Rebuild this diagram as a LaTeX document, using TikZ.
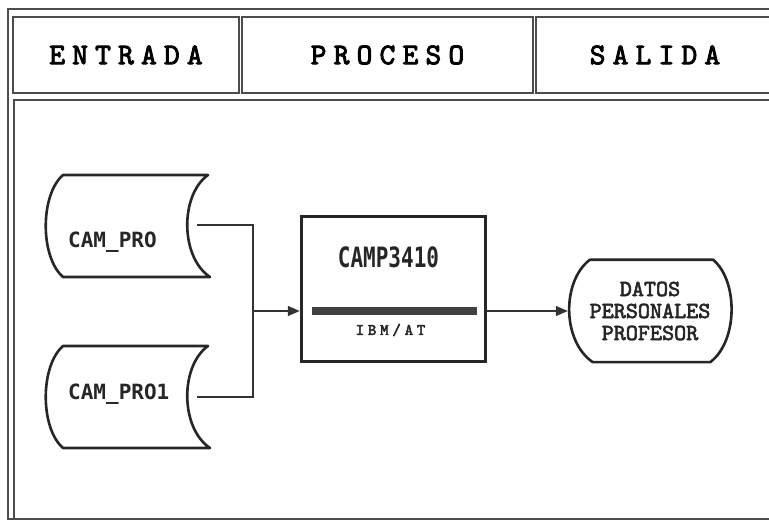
\documentclass[tikz,border=0pt]{standalone}
\usepackage{fontspec}
\usepackage{graphicx}
\usetikzlibrary{arrows.meta, calc, positioning}
\newfontfamily\headfont{lmmono10-regular.otf}[LetterSpace=24, FakeBold=3]
\newfontfamily\datfont{lmmono10-regular.otf}[FakeBold=2.6]
\newfontfamily\lblfont{DejaVu Sans Mono}

% outline of a stored-data symbol, centred at (#1,#2)
\newcommand{\storeshape}[2]{%
	\draw[shapeline] ({#1-64},{#2-51}) -- ({#1+81},{#2-51})
	.. controls ({#1+53},{#2-31}) and ({#1+53},{#2+31}) .. ({#1+83},{#2+51})
	-- ({#1-64},{#2+51})
	.. controls ({#1-87},{#2+31}) and ({#1-87},{#2-31}) .. cycle;}

\begin{document}
\begin{tikzpicture}[
		x=1pt, y=-1pt,
		>={Triangle[length=12pt, width=10pt]},
		frame/.style={draw=black!70, line width=1.2pt},
		headcell/.style={
				frame,
				inner sep=0pt,
				minimum height=76pt,
				font=\headfont\fontsize{30}{30}\selectfont
			},
		shapeline/.style={draw=black!85, line width=2.6pt, line join=round},
		conn/.style={draw=black!80, line width=1.4pt},
		lbl/.style={
				inner sep=0pt,
				text=black!85,
				font=\lblfont\bfseries\fontsize{21}{20}\selectfont
			}
	]
	\useasboundingbox (0,0) rectangle (769,521);
	\fill[white] (0,0) rectangle (769,521);

	% double frame
	\draw[frame] (775,9) -- (8,9) -- (8,519) -- (775,519);
	\draw[frame] (775,100) -- (14,100) -- (14,519);

	% header
	\node[headcell, minimum width=226pt] (entrada) at (126,55) {ENTRADA};
	\node[headcell, minimum width=291pt] (proceso) at (387.5,55) {PROCESO};
	\node[headcell, minimum width=238pt] (salida) at (655,55) {SALIDA};

	% input files
	\storeshape{127}{226}
	\storeshape{127}{397}
	\node[lbl, anchor=base west] (campro) at (68,248) {CAM\_PRO};
	\node[lbl, anchor=base west] (campro1) at (68,400) {CAM\_PRO1};

	% process
	\node[draw=black!85, line width=3.5pt, minimum width=184pt, minimum height=145pt] (cpu) at (393.5,289) {};
	\node[lbl, font=\lblfont\bfseries\fontsize{28}{28}\selectfont,
		below=32pt of cpu.north, xshift=-5pt] (camp) {\scalebox{0.75}[1]{CAMP3410}};
	\draw[black!75, line width=8pt] ($(cpu.west)+(12,22)$) coordinate (bar l)
	-- ($(cpu.east)+(-10,22)$) coordinate (bar r);
	\node[lbl, font=\headfont\fontsize{16}{16}\selectfont] (ibm)
	at ($(cpu.center)+(-3,41)$) {IBM/AT};

	% output
	\node[lbl, font=\datfont\fontsize{23}{22}\selectfont, minimum width=164pt,
		minimum height=102pt, align=center] (datos)
	at (650,311) {DATOS\\PERSONALES\\PROFESOR};
	\draw[shapeline] ($(datos.north west)+(22,0)$) -- ($(datos.north east)+(-19,0)$)
	.. controls ($(datos.east)+(6,-30)$) and ($(datos.east)+(6,30)$) .. ($(datos.south east)+(-22,0)$)
	-- ($(datos.south west)+(25,0)$)
	.. controls ($(datos.west)+(-6,30)$) and ($(datos.west)+(-6,-30)$) .. cycle;

	% connectors
	\coordinate (p0 out) at (197,225);
	\coordinate (p1 out) at (197,397);
	\coordinate (join) at (253,311);
	\draw[conn] (p0 out) -| (join);
	\draw[conn] (p1 out) -| (join);
	\draw[conn, ->] (join) -- (join -| cpu.west);
	\draw[conn, ->] (datos.west -| cpu.east) -- (datos.west);
\end{tikzpicture}
\end{document}
